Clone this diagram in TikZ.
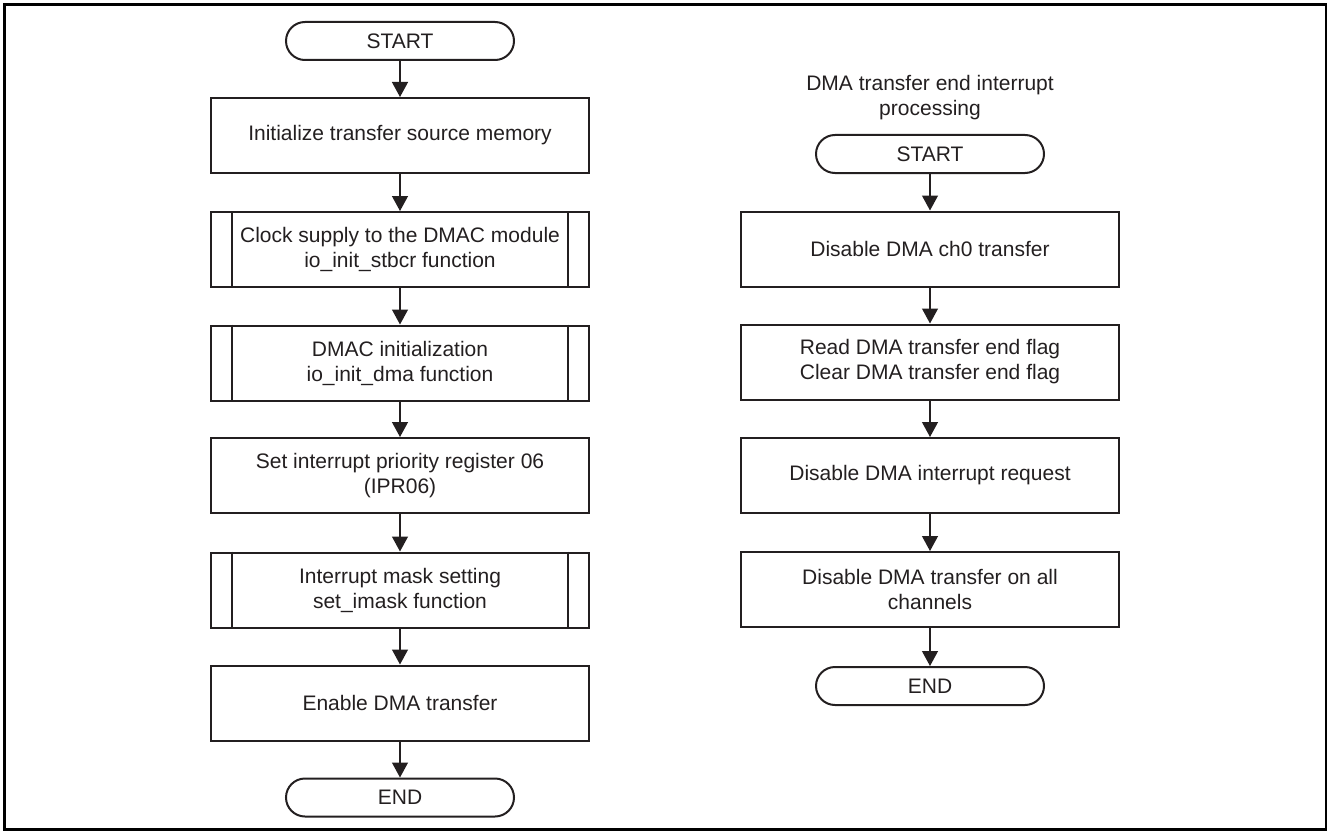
\documentclass[tikz,border=0pt]{standalone}
\usepackage{fontspec}
\setmainfont{Liberation Sans}
\usetikzlibrary{arrows.meta}
\definecolor{ink}{RGB}{35,31,32}
\begin{document}
\begin{tikzpicture}[x=1pt,y=-1pt,
  every node/.style={font=\fontsize{21}{25}\selectfont, text=ink},
  proc/.style={draw=ink, line width=2pt, minimum width=378pt, minimum height=75pt, align=center, inner sep=0pt},
  term/.style={draw=ink, line width=2pt, rounded corners=19pt, minimum width=228pt, minimum height=38pt, inner sep=0pt},
  flow/.style={draw=ink, line width=1.3pt, -{Triangle[length=15pt,width=16pt]}},
  bar/.style={draw=ink, line width=2pt}
]
\useasboundingbox (0,0) rectangle (1328,832);
\draw[line width=2.2pt] (4.5,4.5) rectangle (1326,829.5);

% left flow
\node[term] (s1) at (400,41) {START};
\node[proc] (b1) at (400,135.5) {Initialize transfer source memory};
\node[proc] (b2) at (400,249.5) {Clock supply to the DMAC module\\io\_init\_stbcr function};
\node[proc] (b3) at (400,363) {DMAC initialization\\io\_init\_dma function};
\node[proc] (b4) at (400,475.5) {Set interrupt priority register 06\\(IPR06)};
\node[proc] (b5) at (400,590) {Interrupt mask setting\\set\_imask function};
\node[proc] (b6) at (400,703) {Enable DMA transfer};
\node[term] (e1) at (400,797.5) {END};

\foreach \n in {b2,b3,b5}{
  \draw[bar] ([xshift=22pt]\n.north west) -- ([xshift=22pt]\n.south west);
  \draw[bar] ([xshift=-22pt]\n.north east) -- ([xshift=-22pt]\n.south east);
}

\draw[flow] (s1) -- (b1);
\draw[flow] (b1) -- (b2);
\draw[flow] (b2) -- (b3);
\draw[flow] (b3) -- (b4);
\draw[flow] (b4) -- (b5);
\draw[flow] (b5) -- (b6);
\draw[flow] (b6) -- (e1);

% right flow
\node[align=center] (t2) at (930,97.5) {DMA transfer end interrupt\\processing};
\node[term] (s2) at (930,154) {START};
\node[proc] (r1) at (930,249) {Disable DMA ch0 transfer};
\node[proc] (r2) at (930,362) {Read DMA transfer end flag\\Clear DMA transfer end flag};
\node[proc] (r3) at (930,475.5) {Disable DMA interrupt request};
\node[proc] (r4) at (930,589.5) {Disable DMA transfer on all\\channels};
\node[term] (e2) at (930,686) {END};

\draw[flow] (s2) -- (r1);
\draw[flow] (r1) -- (r2);
\draw[flow] (r2) -- (r3);
\draw[flow] (r3) -- (r4);
\draw[flow] (r4) -- (e2);
\end{tikzpicture}
\end{document}
